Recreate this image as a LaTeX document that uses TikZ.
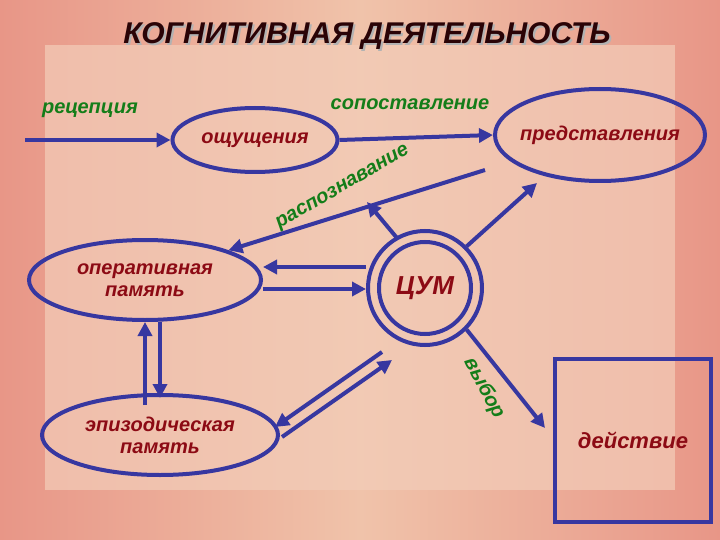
\documentclass[tikz,border=0pt]{standalone}
\usepackage{fontspec}
\setmainfont{Liberation Sans}
\usetikzlibrary{arrows.meta,shapes.geometric}
\definecolor{bgA}{RGB}{232,150,135}
\definecolor{bgB}{RGB}{240,195,170}
\definecolor{panel}{RGB}{243,205,185}
\definecolor{lineblue}{RGB}{55,55,160}
\definecolor{dred}{RGB}{140,10,20}
\definecolor{dgreen}{RGB}{20,125,25}
\tikzset{
  x=1pt,y=-1pt,
  ell/.style={ellipse,draw=lineblue,line width=4pt,inner sep=0pt},
  lbl/.style={font=\bfseries\itshape\fontsize{20}{22}\selectfont,text=dred,align=center},
  glbl/.style={font=\bfseries\itshape\fontsize{20}{22}\selectfont,text=dgreen},
  arr/.style={draw=lineblue,line width=4pt,-{Triangle[length=14pt,width=14pt]}}
}
\begin{document}
\begin{tikzpicture}
\useasboundingbox (0,0) rectangle (720,540);
\shade[left color=bgA,right color=bgA,middle color=bgB] (0,0) rectangle (720,540);
\fill[panel,opacity=0.7] (45,45) rectangle (675,490);
\node[font=\bfseries\itshape\fontsize{30}{32}\selectfont,text=gray!60] at (369,38) {КОГНИТИВНАЯ ДЕЯТЕЛЬНОСТЬ};
\node[font=\bfseries\itshape\fontsize{30}{32}\selectfont,text=black!70!dred] (title) at (367,36) {КОГНИТИВНАЯ ДЕЯТЕЛЬНОСТЬ};
\node[glbl] (rec) at (90,110) {рецепция};
\coordinate (start) at (25,140);
\node[ell,minimum width=165,minimum height=64] (osh) at (255,140) {};
\node[lbl] at (osh) {ощущения};
\node[glbl] (sop) at (410,104) {сопоставление};
\node[ell,minimum width=210,minimum height=92] (pred) at (600,135) {};
\node[lbl] at (pred) {представления};
\node[glbl,rotate=30] (rasp) at (343,188) {распознавание};
\node[ell,minimum width=232,minimum height=80] (oper) at (145,280) {};
\node[lbl] at (oper) {оперативная\\память};
\node[ell,minimum width=236,minimum height=80] (epiz) at (160,435) {};
\node[lbl] at (epiz) {эпизодическая\\память};
\node[circle,draw=lineblue,line width=4pt,minimum size=114] (cum) at (425,288) {};
\node[circle,draw=lineblue,line width=4pt,minimum size=92] at (cum) {};
\node[lbl,font=\bfseries\itshape\fontsize{26}{28}\selectfont] at (cum) {ЦУМ};
\node[draw=lineblue,line width=4pt,minimum width=156,minimum height=163] (deist) at (633,440) {};
\node[lbl,font=\bfseries\itshape\fontsize{22}{24}\selectfont] at (deist) {действие};
\node[glbl,rotate=-62] (vyb) at (484,388) {выбор};
\coordinate (rz) at (367,202);
\coordinate (pl) at (485,170);
\coordinate (cu) at (397,238);
\coordinate (act) at (545,428);
% connectors
\draw[arr] (start) -- (osh.west);
\draw[arr] (osh.east) -- (pred.west);
\draw[arr] (pl) -- (oper.north east);
\draw[arr] (cu) -- (rz);
\draw[arr] (cum.north east) -- (537,183);
\draw[arr] (cum.west |- 0,267) -- (oper.east |- 0,267);
\draw[arr] (oper.east |- 0,289) -- (cum.west |- 0,289);
\draw[arr] (145,405) -- (145,322);
\draw[arr] (160,322) -- (160,398);
\draw[arr] (382,352) -- (275,427);
\draw[arr] (282,437) -- (392,360);
\draw[arr] (cum.south east) -- (act);
\end{tikzpicture}
\end{document}
